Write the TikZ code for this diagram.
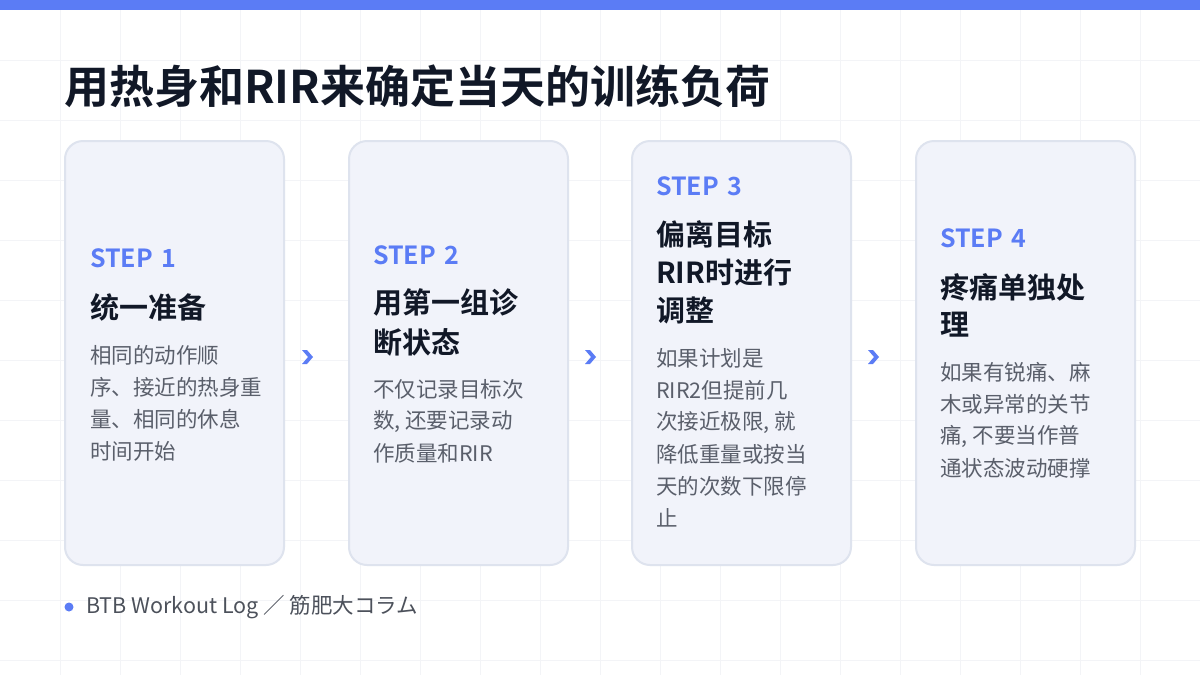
\documentclass[tikz,border=0pt]{standalone}
\usepackage{fontspec}
\setmainfont{Noto Sans CJK SC}
\newfontfamily\cjkb{Noto Sans CJK SC Bold}
\definecolor{accent}{HTML}{5B7CF5}
\definecolor{cardfill}{HTML}{F1F3FA}
\definecolor{cardline}{HTML}{DEE3EE}
\definecolor{ink}{HTML}{111827}
\definecolor{body}{HTML}{5A5F6B}
\definecolor{gridc}{HTML}{F3F4F7}
\begin{document}
\begin{tikzpicture}[x=1pt,y=-1pt,
  card/.style={draw=cardline,line width=2pt,fill=cardfill,rounded corners=18pt},
  ln/.style={anchor=west,inner sep=0pt},
  stp/.style={ln,text=accent,font=\cjkb\fontsize{25}{30}\selectfont},
  ttl/.style={ln,text=ink,font=\cjkb\fontsize{29}{34}\selectfont},
  bdy/.style={ln,text=body,font=\fontsize{21.5}{26}\selectfont},
  chev/.style={fill=accent}]
\useasboundingbox (0,0) rectangle (1200,675);
\fill[white] (0,0) rectangle (1200,675);
\foreach \i in {60,120,...,1140} \draw[gridc,line width=1pt] (\i,0) -- (\i,675);
\foreach \j in {60,120,...,660} \draw[gridc,line width=1pt] (0,\j) -- (1200,\j);
\fill[accent] (0,0) rectangle (1200,10);
\node[anchor=west,inner sep=0pt,text=ink,font=\cjkb\fontsize{45}{52}\selectfont] (title) at (64,86) {用热身和RIR来确定当天的训练负荷};
\foreach \n/\x in {1/65,2/349,3/632,4/916}
  \draw[card] (\x,141) rectangle ++(219,424) coordinate (c\n);
% card 1
\node[stp] (s1) at (90,258) {STEP\,\,1};
\node[ttl] (h1a) at (90,307) {统一准备};
\foreach \t [count=\k from 0] in {相同的动作顺,序、接近的热身重,量、相同的休息,时间开始}
  \node[bdy] (b1-\k) at (90,355+32*\k) {\t};
% card 2
\node[stp] (s2) at (373,255) {STEP\,\,2};
\foreach \t [count=\k from 0] in {用第一组诊,断状态}
  \node[ttl] (h2-\k) at (373,302+40*\k) {\t};
\foreach \t [count=\k from 0] in {{不仅记录目标次},{数, 还要记录动},{作质量和RIR}}
  \node[bdy] (b2-\k) at (373,389+32*\k) {\t};
% card 3
\node[stp] (s3) at (656,186) {STEP\,\,3};
\foreach \t [count=\k from 0] in {偏离目标,RIR时进行,调整}
  \node[ttl] (h3-\k) at (656,234+38*\k) {\t};
\foreach \t [count=\k from 0] in {{如果计划是},{RIR2但提前几},{次接近极限, 就},{降低重量或按当},{天的次数下限停},{止}}
  \node[bdy] (b3-\k) at (656,358+32*\k) {\t};
% card 4
\node[stp] (s4) at (940,238) {STEP\,\,4};
\foreach \t [count=\k from 0] in {疼痛单独处,理}
  \node[ttl] (h4-\k) at (940,287+38*\k) {\t};
\foreach \t [count=\k from 0] in {{如果有锐痛、麻},{木或异常的关节},{痛, 不要当作普},{通状态波动硬撑}}
  \node[bdy] (b4-\k) at (940,372+32*\k) {\t};
\foreach \cx in {307,590,873}
  \fill[chev] (\cx-5,350) -- (\cx,350) -- (\cx+6,357) -- (\cx,364) -- (\cx-5,364) -- (\cx+1,357) -- cycle;
\fill[accent] (69,607) circle (4.5pt);
\node[anchor=west,inner sep=0pt,text=body!85!black,font=\fontsize{21.5}{26}\selectfont] (foot) at (86,607) {BTB Workout Log ／ 筋肥大コラム};
\end{tikzpicture}
\end{document}
